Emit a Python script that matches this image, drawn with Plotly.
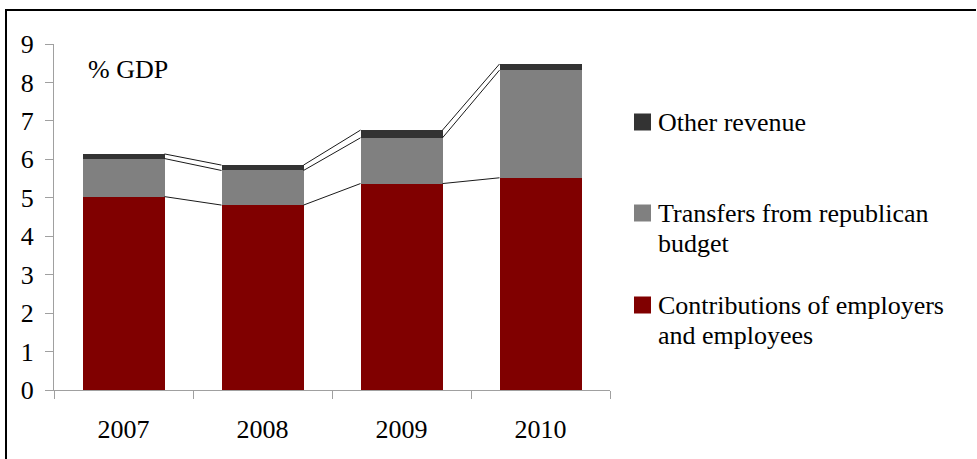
import plotly.graph_objects as go

# ==============================
# Data (% of GDP)
# ==============================
years = ['2007', '2008', '2009', '2010']
contributions = [5.03, 4.81, 5.37, 5.52]
transfers = [0.99, 0.90, 1.19, 2.80]
other_revenue = [0.12, 0.14, 0.20, 0.16]

series_names = ['Contributions of employers and employees',
                'Transfers from republican budget',
                'Other revenue']
series_colors = ['#800000', '#808080', '#333333']

# ==============================
# Layout geometry (pixels)
# ==============================
W, H = 977, 459
PLOT_L, PLOT_R, PLOT_T, PLOT_B = 54, 610, 44, 390
BAR_W = 0.59
FONT = 'Liberation Serif'
FS = 26


def px_x(px):
    return (px - PLOT_L) / (PLOT_R - PLOT_L)


def px_y(py):
    return (PLOT_B - py) / (PLOT_B - PLOT_T)


x_pos = list(range(len(years)))

fig = go.Figure()

# stacked bars
for name, vals, color in zip(series_names, [contributions, transfers, other_revenue], series_colors):
    fig.add_trace(go.Bar(
        x=x_pos, y=vals, name=name, width=BAR_W,
        marker=dict(color=color, line_width=0),
        showlegend=False
    ))

# series lines joining the tops of each stack segment (Excel style)
cum = [0.0] * len(years)
for vals in [contributions, transfers, other_revenue]:
    cum = [c + v for c, v in zip(cum, vals)]
    lx, ly = [], []
    for i in range(len(years) - 1):
        lx += [i + BAR_W / 2, i + 1 - BAR_W / 2, None]
        ly += [cum[i], cum[i + 1], None]
    fig.add_trace(go.Scatter(
        x=lx, y=ly, mode='lines',
        line=dict(color='#1a1a1a', width=1),
        showlegend=False, hoverinfo='skip'
    ))

# ==============================
# Manual legend (right side)
# ==============================
legend_items = [
    ('#333333', ['Other revenue'], 122),
    ('#808080', ['Transfers from republican', 'budget'], 213),
    ('#800000', ['Contributions of employers', 'and employees'], 305),
]
shapes = []
annotations = []
for color, lines, yc in legend_items:
    shapes.append(dict(
        type='rect', xref='paper', yref='paper',
        x0=px_x(634), x1=px_x(651), y0=px_y(yc - 8.5), y1=px_y(yc + 8.5),
        fillcolor=color, line_width=0
    ))
    for k, txt in enumerate(lines):
        annotations.append(dict(
            text=txt, xref='paper', yref='paper',
            x=px_x(656), y=px_y(yc + 30 * k),
            xanchor='left', yanchor='middle', showarrow=False,
            font=dict(family=FONT, size=FS, color='black')
        ))

annotations.append(dict(
    text='% GDP', xref='paper', yref='paper',
    x=px_x(86), y=px_y(69), xanchor='left', yanchor='middle',
    showarrow=False, font=dict(family=FONT, size=FS, color='black')
))

# outer frame (left and top edges visible)
shapes.append(dict(type='line', xref='paper', yref='paper',
                   x0=px_x(6), x1=px_x(6), y0=px_y(10), y1=px_y(470),
                   line=dict(color='black', width=2)))
shapes.append(dict(type='line', xref='paper', yref='paper',
                   x0=px_x(5), x1=px_x(976), y0=px_y(10), y1=px_y(10),
                   line=dict(color='black', width=2)))

fig.update_layout(
    width=W, height=H,
    barmode='stack',
    bargap=0,
    plot_bgcolor='white', paper_bgcolor='white',
    margin=dict(l=PLOT_L, r=W - PLOT_R, t=PLOT_T, b=H - PLOT_B, pad=0),
    font=dict(family=FONT, size=FS, color='black'),
    shapes=shapes,
    annotations=annotations,
    showlegend=False
)

fig.update_xaxes(
    range=[-0.5, len(years) - 0.5],
    tickmode='array', tickvals=x_pos, ticktext=years,
    ticks='', showgrid=False, zeroline=False,
    showline=True, linecolor='#a0a0a0', linewidth=1,
    ticklabelstandoff=16,
    minor=dict(tickmode='array', tickvals=[i - 0.5 for i in range(len(years) + 1)],
               ticks='outside', ticklen=8, tickcolor='#a0a0a0', tickwidth=1,
               showgrid=False),
    tickfont=dict(family=FONT, size=FS, color='black')
)
fig.update_yaxes(
    range=[0, 9], dtick=1, tick0=0,
    ticks='outside', ticklen=8, tickcolor='#a0a0a0', tickwidth=1,
    showgrid=False, zeroline=False,
    showline=True, linecolor='#a0a0a0', linewidth=1,
    ticklabelstandoff=6,
    tickfont=dict(family=FONT, size=FS, color='black')
)

# page body has a default margin; remove it so the figure sits at (0, 0)
fig.write_html("out.html", config={'displayModeBar': False},
               post_script="document.body.style.margin='0';")
